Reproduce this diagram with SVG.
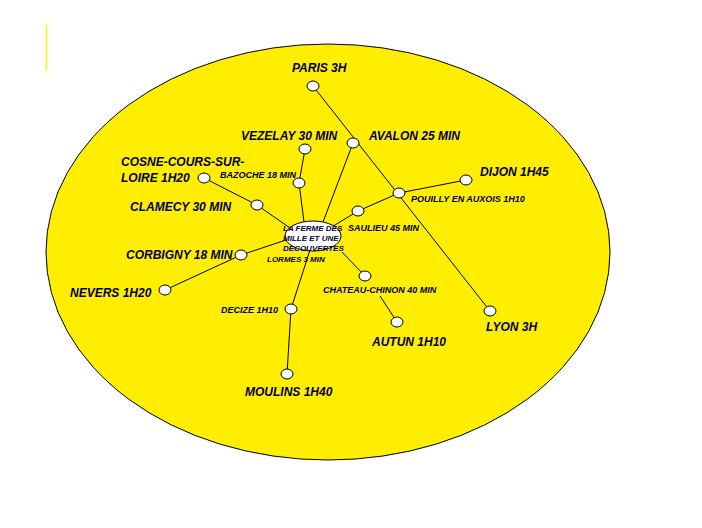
<svg xmlns="http://www.w3.org/2000/svg" width="702" height="528" viewBox="0 0 702 528">
<style>
.n{fill:#fff;stroke:#000;stroke-width:1}
.c line{stroke:#000;stroke-width:1}
text{font-family:"Liberation Sans",Arial,sans-serif;font-weight:bold;font-style:italic;fill:#000033}
.b{font-size:12px}.s{font-size:9px}.t{font-size:8px}
</style>
<rect width="702" height="528" fill="#fff"/>
<line x1="46.5" y1="25" x2="46.5" y2="70" stroke="#ffee00" stroke-width="1.5"/>
<ellipse cx="328" cy="252" rx="282" ry="208" fill="#ffee00" stroke="#000" stroke-width="1"/>
<g class="c">
<line x1="313" y1="86" x2="490" y2="311"/>
<line x1="353" y1="143" x2="323" y2="222"/>
<line x1="305" y1="149" x2="299" y2="183"/>
<line x1="299" y1="183" x2="304" y2="222"/>
<line x1="204" y1="178" x2="257" y2="205"/>
<line x1="257" y1="205" x2="290" y2="228"/>
<line x1="165" y1="290" x2="241" y2="255"/>
<line x1="241" y1="255" x2="286" y2="240"/>
<line x1="291" y1="309" x2="310" y2="250"/>
<line x1="291" y1="309" x2="287" y2="374"/>
<line x1="330" y1="228" x2="358" y2="211"/>
<line x1="358" y1="211" x2="399" y2="193"/>
<line x1="399" y1="193" x2="466" y2="180"/>
<line x1="342" y1="252" x2="365" y2="276"/>
<line x1="380" y1="296" x2="397" y2="322"/>
</g>
<g id="center"><ellipse class="n" cx="313" cy="236" rx="28" ry="15"/><text class="t" x="283" y="231">LA FERME DES</text><text class="t" x="283" y="241">MILLE ET UNE</text><text class="t" x="283" y="251">DECOUVERTES</text></g>
<g id="lormes"><text class="t" x="267" y="262">LORMES 3 MIN</text></g>
<g id="paris"><ellipse class="n" cx="313" cy="86" rx="6" ry="5"/><text class="b" x="292" y="72">PARIS 3H</text></g>
<g id="avalon"><ellipse class="n" cx="353" cy="143" rx="6" ry="5"/><text class="b" x="369" y="140">AVALON 25 MIN</text></g>
<g id="vezelay"><ellipse class="n" cx="305" cy="149" rx="6" ry="5"/><text class="b" x="241" y="140">VEZELAY 30 MIN</text></g>
<g id="bazoche"><ellipse class="n" cx="299" cy="183" rx="6" ry="5"/><text class="s" x="220" y="178">BAZOCHE  18 MIN</text></g>
<g id="cosne"><ellipse class="n" cx="204" cy="178" rx="6" ry="5"/><text class="b" x="121" y="166">COSNE-COURS-SUR-</text><text class="b" x="121" y="182">LOIRE 1H20</text></g>
<g id="clamecy"><ellipse class="n" cx="257" cy="205" rx="6" ry="5"/><text class="b" x="130" y="211">CLAMECY 30 MIN</text></g>
<g id="corbigny"><ellipse class="n" cx="241" cy="255" rx="6" ry="5"/><text class="b" x="126" y="259">CORBIGNY 18 MIN</text></g>
<g id="nevers"><ellipse class="n" cx="165" cy="290" rx="6" ry="5"/><text class="b" x="70" y="297">NEVERS 1H20</text></g>
<g id="decize"><ellipse class="n" cx="291" cy="309" rx="6" ry="5"/><text class="s" x="221" y="313">DECIZE 1H10</text></g>
<g id="moulins"><ellipse class="n" cx="287" cy="374" rx="6" ry="5"/><text class="b" x="245" y="396">MOULINS 1H40</text></g>
<g id="saulieu"><ellipse class="n" cx="358" cy="211" rx="6" ry="5"/><text class="s" x="348" y="231">SAULIEU 45 MIN</text></g>
<g id="pouilly"><ellipse class="n" cx="399" cy="193" rx="6" ry="5"/><text class="s" x="411" y="202">POUILLY EN AUXOIS 1H10</text></g>
<g id="dijon"><ellipse class="n" cx="466" cy="180" rx="6" ry="5"/><text class="b" x="480" y="176">DIJON 1H45</text></g>
<g id="lyon"><ellipse class="n" cx="490" cy="311" rx="6" ry="5"/><text class="b" x="486" y="331">LYON 3H</text></g>
<g id="chateau"><ellipse class="n" cx="365" cy="276" rx="6" ry="5"/><text class="s" x="323" y="293">CHATEAU-CHINON 40 MIN</text></g>
<g id="autun"><ellipse class="n" cx="397" cy="322" rx="6" ry="5"/><text class="b" x="372" y="346">AUTUN 1H10</text></g>
</svg>
